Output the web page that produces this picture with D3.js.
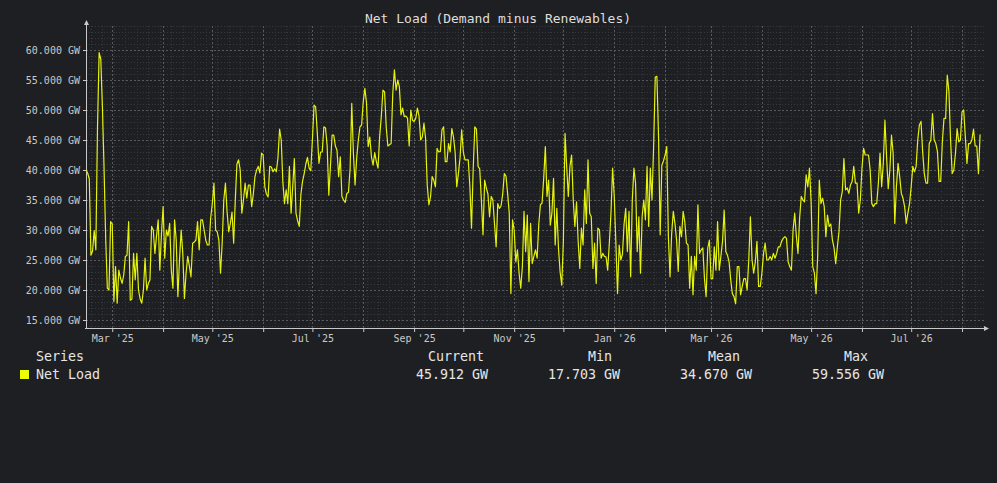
<!DOCTYPE html>
<html lang="en">
<head>
<meta charset="utf-8">
<title>Net Load</title>
<script src="https://cdn.jsdelivr.net/npm/d3@7"></script>
<style>
  body { margin: 0; background: #1e1f22; }
  text { font-family: "DejaVu Sans Mono", monospace; }
</style>
</head>
<body>
<script>
// data: one value per day, starting at startDay
var startDay = "2025-02-13";
var netLoad = [
  40.0, 39.5, 38.5, 25.8, 26.5, 29.9, 26.7, 47.0, 59.556, 58.5,
  50.5, 40.3, 28.6, 20.3, 20.0, 31.4, 31.0, 18.1, 23.9, 17.8,
  23.3, 22.0, 21.1, 22.5, 25.6, 25.8, 31.4, 18.3, 18.5, 26.1,
  21.7, 26.1, 20.0, 18.5, 17.8, 20.0, 25.3, 20.0, 21.1, 21.7,
  30.6, 30.0, 26.1, 29.0, 31.7, 23.3, 29.4, 33.9, 25.3, 30.0,
  29.0, 31.1, 23.3, 20.3, 31.7, 28.3, 18.9, 25.0, 30.0, 26.1,
  18.6, 22.8, 25.6, 24.0, 22.2, 27.8, 28.0, 28.3, 31.4, 26.7,
  31.7, 31.7, 30.0, 28.3, 27.5, 27.5, 32.0, 34.4, 37.8, 30.0,
  29.7, 28.3, 22.8, 27.8, 35.0, 37.8, 33.0, 29.7, 31.1, 33.0,
  27.8, 35.0, 41.0, 41.7, 40.0, 32.8, 35.0, 37.8, 35.3, 37.5,
  37.5, 33.9, 36.0, 38.9, 40.0, 40.6, 39.5, 42.8,
  42.5, 37.2, 36.0, 35.5, 40.6, 40.5, 39.7, 40.2, 39.7, 42.0,
  46.8, 45.0, 38.0, 34.4, 36.7, 34.4, 40.6, 32.8, 37.2, 41.9,
  32.8, 31.5, 30.6, 36.0, 38.1, 39.4, 41.0, 42.1, 40.3, 39.9,
  45.0, 50.8, 50.5, 46.1, 41.1, 43.0, 43.0, 47.2, 47.0, 44.0,
  35.8, 40.6, 45.8, 45.8, 44.0, 43.3, 38.9, 42.2, 35.6, 35.0,
  34.6, 36.1, 36.3, 40.3, 51.1, 42.8, 37.5, 42.0, 45.0, 47.2,
  47.5, 51.4, 53.6, 51.1, 43.9, 45.5, 42.2, 40.8, 42.9, 41.4,
  40.3, 45.6, 48.9, 53.3, 53.0, 47.2, 44.0, 44.2, 44.4, 52.8,
  56.7, 53.3, 55.0, 53.9, 49.2, 50.3, 48.9, 49.0, 48.6, 44.0,
  50.0, 48.3, 48.1, 48.6, 50.3, 49.0, 45.0, 45.5, 47.8, 45.3,
  37.5, 34.2, 35.5, 38.9, 38.3, 37.2, 43.6, 43.0,
  43.1, 46.7, 47.2, 41.4, 41.4, 44.4, 43.0, 46.9, 45.5, 43.0,
  37.2, 39.4, 42.0, 46.7, 43.0, 41.7, 41.7, 41.7, 37.2, 30.3,
  40.0, 47.2, 46.8, 40.6, 40.2, 35.0, 29.2, 38.3, 37.0, 36.0,
  32.2, 35.6, 35.0, 31.1, 27.2, 34.4, 33.6, 34.0, 36.0, 39.4,
  39.0, 36.1, 32.8, 19.4, 31.7, 30.0, 24.7, 26.7, 22.8, 20.3,
  23.9, 33.1, 26.4, 32.5, 21.4, 31.1, 24.4, 25.6, 26.7, 25.3,
  31.0, 34.2, 34.5, 38.6, 43.9, 35.6, 38.3, 30.8, 32.8, 38.6,
  27.5, 33.6, 27.0, 23.0, 20.8, 28.3, 46.1, 40.6, 35.6, 40.6,
  42.5, 35.0, 30.6, 34.7, 28.1, 23.6, 30.3, 27.5, 36.7, 31.1,
  41.7, 32.8, 32.2, 23.6, 27.8, 21.1, 30.3, 30.0, 25.3, 26.1,
  25.6, 25.5, 23.3, 27.8, 32.8, 40.3, 35.6, 27.8, 19.4,
  27.5, 25.0, 26.0, 31.0, 33.6, 26.4, 33.1, 22.2, 35.0, 40.3,
  37.8, 26.4, 32.2, 22.8, 32.2, 35.0, 31.7, 40.6, 30.6, 40.3,
  35.0, 43.9, 55.5, 55.6, 45.6, 29.2, 40.8, 41.5, 42.5, 43.9,
  28.9, 22.2, 29.4, 33.1, 31.1, 28.3, 23.1, 30.6, 28.9, 33.1,
  31.4, 27.8, 27.5, 20.3, 25.6, 19.2, 25.6, 23.3, 34.2, 26.1,
  26.7, 27.0, 21.9, 18.9, 27.0, 28.3, 21.9, 21.9, 27.2, 23.3,
  31.4, 23.3, 25.6, 28.1, 33.3, 26.4, 25.8, 24.7, 21.7, 19.4,
  18.9, 17.703, 23.9, 23.9, 19.2, 20.6, 21.9, 21.9, 20.0, 25.0,
  32.2, 25.0, 22.8, 24.7, 28.1, 20.6, 20.6, 22.8, 26.1, 27.8,
  25.0, 25.0, 25.6, 25.0, 26.1, 25.3, 26.1, 27.2, 27.2, 28.1,
  28.6, 28.9, 28.6, 24.7, 23.9, 23.3, 30.0, 32.8,
  29.0, 26.1, 32.0, 35.6, 35.0, 34.7, 39.2, 37.2, 40.3, 34.7,
  23.9, 22.8, 19.4, 25.6, 38.3, 34.4, 35.3, 33.9, 28.9, 32.5,
  30.6, 31.0, 28.3, 27.0, 24.4, 27.2, 29.7, 35.0, 36.4, 41.9,
  36.7, 37.0, 36.1, 37.5, 38.1, 40.6, 37.8, 37.8, 32.8, 35.0,
  40.3, 43.6, 42.5, 42.5, 42.5, 40.0, 34.4, 33.9, 34.4, 34.4,
  37.8, 42.8, 37.2, 41.1, 48.3, 42.2, 36.9, 40.0, 45.8, 42.8,
  31.1, 37.2, 41.1, 38.9, 36.1, 35.3, 33.9, 31.1, 32.8, 34.4,
  37.2, 40.6, 39.7, 40.6, 45.0, 47.5, 48.1, 43.0, 39.4, 37.8,
  37.8, 44.4, 45.0, 49.4, 45.0, 44.4, 43.1, 38.1, 38.1, 44.7,
  48.6, 48.6, 55.8, 53.1, 45.0, 39.4, 40.0, 42.8, 46.9, 44.7,
  45.0, 49.7, 50.0, 45.6, 41.1, 44.4, 44.4, 45.0, 46.8, 44.0,
  44.0, 39.4, 45.912
];
var yTicks = [15, 20, 25, 30, 35, 40, 45, 50, 55, 60];
var chartTitle = "Net Load (Demand minus Renewables)";
var seriesName = "Net Load";
var legendHeaders = ["Current", "Min", "Mean", "Max"];
var legendValues = ["45.912 GW", "17.703 GW", "34.670 GW", "59.556 GW"];

var w = 997, h = 483;
var plotLeft = 86, plotRight = 985, plotTop = 26, plotBottom = 328;
var lineColor = "#e4f20c";
var axisColor = "#c9c9c9";

var t0 = d3.timeParse("%Y-%m-%d")(startDay);
var t1 = d3.timeDay.offset(t0, 548);
var data = netLoad.map(function(v, i) { return {date: d3.timeDay.offset(t0, i), value: v}; });

var x = d3.scaleTime().domain([t0, t1]).range([plotLeft, plotRight]);
var y = d3.scaleLinear().domain([15 - 8 / 6, 64]).range([plotBottom, plotTop]);

var svg = d3.select("body").append("svg").attr("width", w).attr("height", h)
  .style("display", "block");

svg.append("rect").attr("width", w).attr("height", h).attr("fill", "#1e1f22");

// grid: minor weeks / 1 GW, major months / 5 GW
var grid = svg.append("g").attr("shape-rendering", "crispEdges");
var minorY = d3.range(14, 65).filter(function(v) { return v % 5 !== 0; });
grid.selectAll(".hmin").data(minorY).enter().append("line")
  .attr("x1", plotLeft).attr("x2", plotRight)
  .attr("y1", function(d) { return Math.round(y(d)) + 0.5; })
  .attr("y2", function(d) { return Math.round(y(d)) + 0.5; })
  .attr("stroke", "#36373b").attr("stroke-dasharray", "1,2");
grid.selectAll(".vmin").data(d3.timeWeek.range(t0, t1)).enter().append("line")
  .attr("y1", plotTop).attr("y2", plotBottom)
  .attr("x1", function(d) { return Math.round(x(d)) + 0.5; })
  .attr("x2", function(d) { return Math.round(x(d)) + 0.5; })
  .attr("stroke", "#36373b").attr("stroke-dasharray", "1,2");
grid.selectAll(".hmaj").data(yTicks).enter().append("line")
  .attr("x1", plotLeft).attr("x2", plotRight)
  .attr("y1", function(d) { return Math.round(y(d)) + 0.5; })
  .attr("y2", function(d) { return Math.round(y(d)) + 0.5; })
  .attr("stroke", "#58595d").attr("stroke-dasharray", "2,2");
var months = d3.timeMonth.range(d3.timeDay.offset(t0, 1), t1);
grid.selectAll(".vmaj").data(months).enter().append("line")
  .attr("y1", plotTop).attr("y2", plotBottom)
  .attr("x1", function(d) { return Math.round(x(d)) + 0.5; })
  .attr("x2", function(d) { return Math.round(x(d)) + 0.5; })
  .attr("stroke", "#58595d").attr("stroke-dasharray", "2,2");

// axes
var fmtMonth = d3.timeFormat("%b '%y");
var xAxis = svg.append("g").attr("transform", "translate(0," + plotBottom + ")")
  .call(d3.axisBottom(x).tickValues(months).tickSize(4).tickPadding(3)
    .tickFormat(function(d) { return d.getMonth() % 2 === 0 ? fmtMonth(d) : ""; }));
var yAxis = svg.append("g").attr("transform", "translate(" + plotLeft + ",0)")
  .call(d3.axisLeft(y).tickValues(yTicks).tickSize(3).tickPadding(3)
    .tickFormat(function(d) { return d3.format(".3f")(d) + " GW"; }));
[xAxis, yAxis].forEach(function(a) {
  a.select(".domain").remove();
  a.selectAll("line").attr("stroke", axisColor);
  a.selectAll("text").attr("fill", axisColor).style("font-family", "DejaVu Sans Mono").style("font-size", "10px");
});

svg.append("line").attr("x1", plotLeft + 0.5).attr("x2", plotLeft + 0.5).attr("y1", plotBottom + 1).attr("y2", 24)
  .attr("stroke", axisColor);
svg.append("line").attr("x1", plotLeft - 1).attr("x2", 986).attr("y1", plotBottom + 0.5).attr("y2", plotBottom + 0.5)
  .attr("stroke", axisColor);
svg.append("path").attr("d", "M" + (plotLeft + 0.5) + ",20 L" + (plotLeft + 3) + ",25 L" + (plotLeft - 2) + ",25 Z")
  .attr("fill", axisColor);
svg.append("path").attr("d", "M989," + (plotBottom + 0.5) + " L984," + (plotBottom - 2) + " L984," + (plotBottom + 3) + " Z")
  .attr("fill", axisColor);

// series
svg.append("path").datum(data)
  .attr("fill", "none").attr("stroke", lineColor).attr("stroke-width", 1.2)
  .attr("stroke-linejoin", "round")
  .attr("d", d3.line().x(function(d) { return x(d.date); }).y(function(d) { return y(d.value); }));

// title
svg.append("text").attr("x", 498).attr("y", 23).attr("text-anchor", "middle")
  .attr("fill", "#dedede").style("font-size", "13px").text(chartTitle);

// legend table
var legend = svg.append("g").style("font-size", "13.3px").attr("fill", "#e6e6e6");
legend.append("text").attr("x", 36).attr("y", 361).text("Series");
legend.append("rect").attr("x", 20).attr("y", 370).attr("width", 9).attr("height", 9).attr("fill", "#eaff00");
legend.append("text").attr("x", 36).attr("y", 379).text(seriesName);
var headX = [428, 588, 708, 844];
var valX = [416, 548, 680, 812];
legend.selectAll(".lh").data(legendHeaders).enter().append("text")
  .attr("x", function(d, i) { return headX[i]; }).attr("y", 361).text(function(d) { return d; });
legend.selectAll(".lv").data(legendValues).enter().append("text")
  .attr("x", function(d, i) { return valX[i]; }).attr("y", 379).text(function(d) { return d; });
</script>
</body>
</html>
